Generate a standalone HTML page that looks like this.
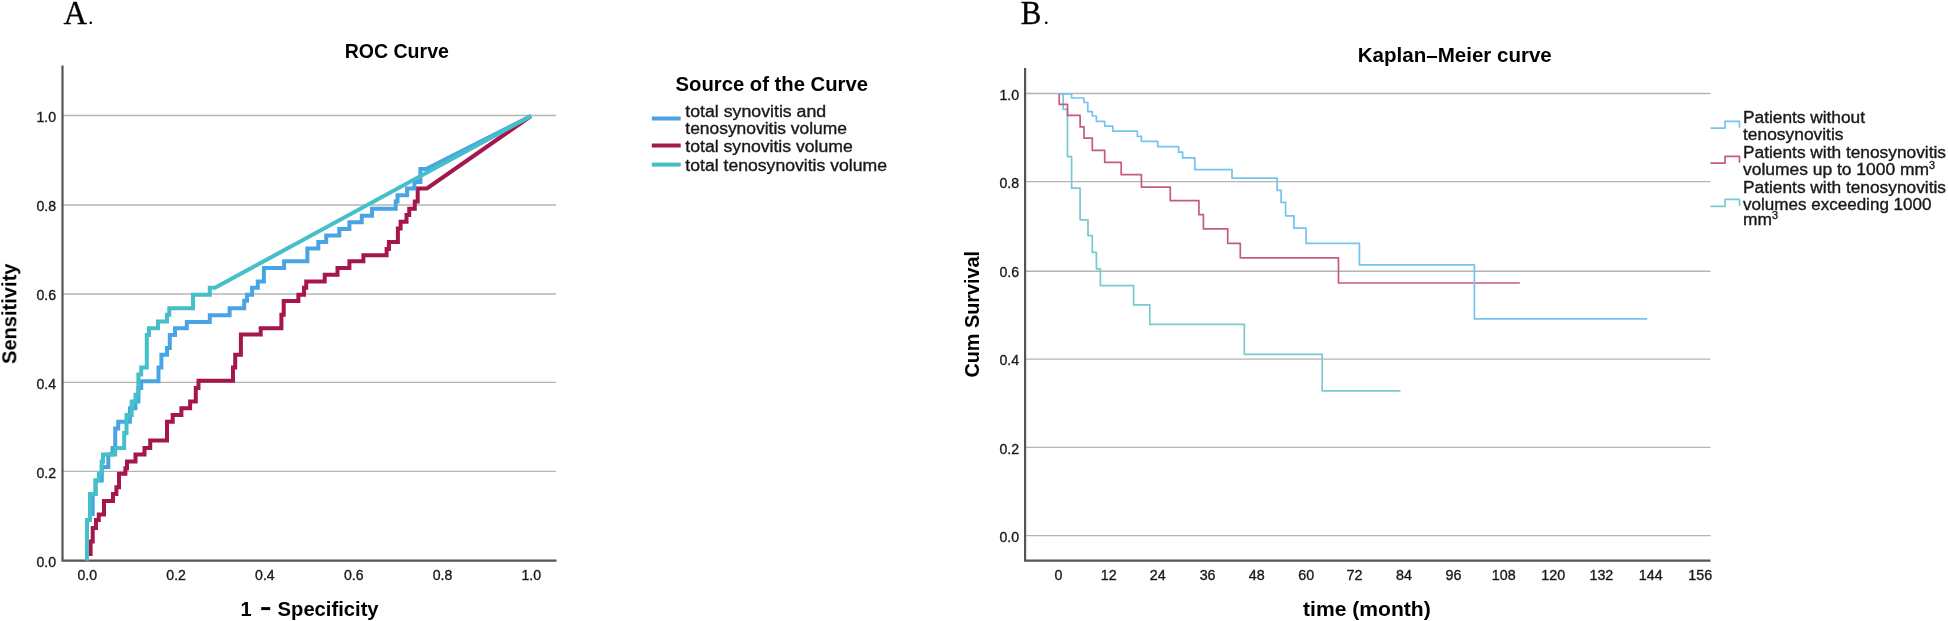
<!DOCTYPE html>
<html><head><meta charset="utf-8"><title>ROC and Kaplan-Meier</title>
<style>html,body{margin:0;padding:0;background:#fff;}body{width:1948px;height:621px;overflow:hidden;font-family:"Liberation Sans",sans-serif;}svg{display:block;will-change:transform;}</style></head>
<body>
<svg width="1948" height="621" viewBox="0 0 1948 621">
<defs><filter id="soft" x="0" y="0" width="100%" height="100%" filterUnits="userSpaceOnUse" primitiveUnits="userSpaceOnUse"><feGaussianBlur stdDeviation="0.45"/></filter></defs>
<rect width="1948" height="621" fill="#fff"/>
<g filter="url(#soft)">
<text x="63.6" y="23.6" font-family="Liberation Serif, serif" font-size="33" fill="#000" stroke="#000" stroke-width="0.35" textLength="23.6" lengthAdjust="spacingAndGlyphs">A</text>
<text x="88" y="23.6" font-family="Liberation Serif, serif" font-size="22" fill="#000">.</text>
<text x="1020.8" y="23.6" font-family="Liberation Serif, serif" font-size="33" fill="#000" stroke="#000" stroke-width="0.35" textLength="20.6" lengthAdjust="spacingAndGlyphs">B</text>
<text x="1043.6" y="23.6" font-family="Liberation Serif, serif" font-size="22" fill="#000">.</text>
<g stroke="#b4b4b4" stroke-width="1.4">
<line x1="63" y1="115.5" x2="556" y2="115.5"/>
<line x1="63" y1="205.0" x2="556" y2="205.0"/>
<line x1="63" y1="294.0" x2="556" y2="294.0"/>
<line x1="63" y1="382.4" x2="556" y2="382.4"/>
<line x1="63" y1="471.4" x2="556" y2="471.4"/>
</g>
<path d="M62.5,65.5 V560.65 H556.5" fill="none" stroke="#555" stroke-width="2.2"/>
<path d="M87.0,560.6 L87.0,553.9 L90.6,553.9 L90.6,541.4 L92.7,541.4 L92.7,528.0 L96.0,528.0 L96.0,520.0 L98.8,520.0 L98.8,514.4 L104.0,514.4 L104.0,500.9 L113.0,500.9 L113.0,494.0 L116.4,494.0 L116.4,487.3 L119.0,487.3 L119.0,473.8 L125.4,473.8 L125.4,468.2 L127.0,468.2 L127.0,461.4 L135.5,461.4 L135.5,454.6 L144.5,454.6 L144.5,447.9 L150.2,447.9 L150.2,440.6 L167.0,440.6 L167.0,421.7 L172.7,421.7 L172.7,415.0 L181.4,415.0 L181.4,408.2 L190.1,408.2 L190.1,401.4 L195.8,401.4 L195.8,387.9 L198.5,387.9 L198.5,380.7 L233.0,380.7 L233.0,367.6 L235.2,367.6 L235.2,354.8 L240.9,354.8 L240.9,334.5 L260.7,334.5 L260.7,328.2 L281.4,328.2 L281.4,314.7 L283.7,314.7 L283.7,300.9 L298.4,300.9 L298.4,294.7 L304.0,294.7 L304.0,287.7 L306.2,287.7 L306.2,281.6 L324.7,281.6 L324.7,274.8 L337.5,274.8 L337.5,268.0 L349.4,268.0 L349.4,261.3 L363.4,261.3 L363.4,255.2 L386.6,255.2 L386.6,248.9 L388.9,248.9 L388.9,242.1 L397.9,242.1 L397.9,228.6 L400.6,228.6 L400.6,221.8 L406.5,221.8 L406.5,215.1 L409.2,215.1 L409.2,208.8 L414.8,208.8 L414.8,201.6 L417.7,201.6 L417.7,188.5 L426.9,188.5 L531.0,116.0" fill="none" stroke="#a5164e" stroke-width="4" stroke-linejoin="miter"/>
<path d="M87.0,560.6 L87.0,520.0 L90.0,520.0 L90.0,514.0 L92.7,514.0 L92.7,494.0 L95.4,494.0 L95.4,480.6 L101.8,480.6 L101.8,467.0 L108.3,467.0 L108.3,454.6 L112.5,454.6 L112.5,448.0 L115.2,448.0 L115.2,428.5 L118.2,428.5 L118.2,421.7 L129.9,421.7 L129.9,408.2 L135.5,408.2 L135.5,401.4 L138.4,401.4 L138.4,388.0 L141.2,388.0 L141.2,381.2 L158.5,381.2 L158.5,367.6 L161.4,367.6 L161.4,354.8 L167.0,354.8 L167.0,348.0 L169.8,348.0 L169.8,335.0 L175.0,335.0 L175.0,328.2 L186.8,328.2 L186.8,321.9 L209.8,321.9 L209.8,315.3 L229.6,315.3 L229.6,308.2 L244.2,308.2 L244.2,300.7 L247.0,300.7 L247.0,294.7 L252.1,294.7 L252.1,287.7 L257.8,287.7 L257.8,281.6 L263.9,281.6 L263.9,268.0 L284.1,268.0 L284.1,261.3 L307.4,261.3 L307.4,248.4 L318.3,248.4 L318.3,242.1 L326.2,242.1 L326.2,235.4 L339.3,235.4 L339.3,229.1 L349.4,229.1 L349.4,222.3 L361.8,222.3 L361.8,215.8 L372.0,215.8 L372.0,208.8 L395.7,208.8 L395.7,201.6 L397.5,201.6 L397.5,195.2 L407.1,195.2 L407.1,188.5 L414.4,188.5 L414.4,181.9 L420.4,181.9 L420.4,168.9 L426.6,168.9 L531.0,116.0" fill="none" stroke="#4aa4e6" stroke-width="4" stroke-linejoin="miter"/>
<path d="M87.0,560.6 L87.0,520.0 L90.0,520.0 L90.0,494.0 L95.4,494.0 L95.8,494.0 L95.8,480.6 L98.9,480.6 L98.9,473.8 L101.7,473.8 L101.7,461.4 L103.0,461.4 L103.0,454.6 L115.2,454.6 L115.2,448.0 L124.2,448.0 L124.2,433.0 L126.5,433.0 L126.5,415.0 L131.7,415.0 L131.7,401.4 L135.5,401.4 L135.5,394.7 L138.4,394.7 L138.4,374.4 L141.2,374.4 L141.2,367.6 L146.8,367.6 L146.8,335.0 L149.0,335.0 L149.0,328.2 L158.0,328.2 L158.0,321.4 L167.0,321.4 L167.0,314.7 L169.3,314.7 L169.3,308.2 L193.0,308.2 L193.0,294.7 L209.8,294.7 L209.8,287.7 L215.0,287.7 L531.0,116.0" fill="none" stroke="#45bfc8" stroke-width="4" stroke-linejoin="miter"/>
<text x="36.4" y="121.7" font-family="Liberation Sans, sans-serif" font-size="14.3" fill="#1a1a1a" stroke="#1a1a1a" stroke-width="0.35" textLength="19.6" lengthAdjust="spacingAndGlyphs">1.0</text>
<text x="36.4" y="211.2" font-family="Liberation Sans, sans-serif" font-size="14.3" fill="#1a1a1a" stroke="#1a1a1a" stroke-width="0.35" textLength="19.6" lengthAdjust="spacingAndGlyphs">0.8</text>
<text x="36.4" y="300.2" font-family="Liberation Sans, sans-serif" font-size="14.3" fill="#1a1a1a" stroke="#1a1a1a" stroke-width="0.35" textLength="19.6" lengthAdjust="spacingAndGlyphs">0.6</text>
<text x="36.4" y="388.6" font-family="Liberation Sans, sans-serif" font-size="14.3" fill="#1a1a1a" stroke="#1a1a1a" stroke-width="0.35" textLength="19.6" lengthAdjust="spacingAndGlyphs">0.4</text>
<text x="36.4" y="477.6" font-family="Liberation Sans, sans-serif" font-size="14.3" fill="#1a1a1a" stroke="#1a1a1a" stroke-width="0.35" textLength="19.6" lengthAdjust="spacingAndGlyphs">0.2</text>
<text x="36.4" y="566.8" font-family="Liberation Sans, sans-serif" font-size="14.3" fill="#1a1a1a" stroke="#1a1a1a" stroke-width="0.35" textLength="19.6" lengthAdjust="spacingAndGlyphs">0.0</text>
<text x="77.4" y="580" font-family="Liberation Sans, sans-serif" font-size="14.3" fill="#1a1a1a" stroke="#1a1a1a" stroke-width="0.35" textLength="19.6" lengthAdjust="spacingAndGlyphs">0.0</text>
<text x="166.3" y="580" font-family="Liberation Sans, sans-serif" font-size="14.3" fill="#1a1a1a" stroke="#1a1a1a" stroke-width="0.35" textLength="19.6" lengthAdjust="spacingAndGlyphs">0.2</text>
<text x="255.1" y="580" font-family="Liberation Sans, sans-serif" font-size="14.3" fill="#1a1a1a" stroke="#1a1a1a" stroke-width="0.35" textLength="19.6" lengthAdjust="spacingAndGlyphs">0.4</text>
<text x="343.9" y="580" font-family="Liberation Sans, sans-serif" font-size="14.3" fill="#1a1a1a" stroke="#1a1a1a" stroke-width="0.35" textLength="19.6" lengthAdjust="spacingAndGlyphs">0.6</text>
<text x="432.7" y="580" font-family="Liberation Sans, sans-serif" font-size="14.3" fill="#1a1a1a" stroke="#1a1a1a" stroke-width="0.35" textLength="19.6" lengthAdjust="spacingAndGlyphs">0.8</text>
<text x="521.5" y="580" font-family="Liberation Sans, sans-serif" font-size="14.3" fill="#1a1a1a" stroke="#1a1a1a" stroke-width="0.35" textLength="19.6" lengthAdjust="spacingAndGlyphs">1.0</text>
<text x="344.7" y="57.9" font-family="Liberation Sans, sans-serif" font-size="20" font-weight="bold" fill="#000" textLength="104.2" lengthAdjust="spacingAndGlyphs">ROC Curve</text>
<text x="240.6" y="615.8" font-family="Liberation Sans, sans-serif" font-size="20" font-weight="bold" fill="#000">1</text>
<rect x="261.2" y="607.1" width="9" height="3" fill="#000"/>
<text x="277.6" y="615.8" font-family="Liberation Sans, sans-serif" font-size="20" font-weight="bold" fill="#000" textLength="101" lengthAdjust="spacingAndGlyphs">Specificity</text>
<text transform="translate(16.3,364) rotate(-90)" font-family="Liberation Sans, sans-serif" font-size="20" font-weight="bold" fill="#000" textLength="100.5" lengthAdjust="spacingAndGlyphs">Sensitivity</text>
<text x="675.5" y="91" font-family="Liberation Sans, sans-serif" font-size="20" font-weight="bold" fill="#000" textLength="192.5" lengthAdjust="spacingAndGlyphs">Source of the Curve</text>
<line x1="651.8" y1="118.5" x2="680.7" y2="118.5" stroke="#4aa2e4" stroke-width="4"/>
<line x1="651.8" y1="145.5" x2="680.7" y2="145.5" stroke="#a5164e" stroke-width="4"/>
<line x1="651.8" y1="164.6" x2="680.7" y2="164.6" stroke="#43bfc6" stroke-width="4"/>
<text x="685.3" y="117.4" font-family="Liberation Sans, sans-serif" font-size="16" fill="#1a1a1a" stroke="#1a1a1a" stroke-width="0.35" textLength="140.9" lengthAdjust="spacingAndGlyphs">total synovitis and</text>
<text x="685.3" y="134.1" font-family="Liberation Sans, sans-serif" font-size="16" fill="#1a1a1a" stroke="#1a1a1a" stroke-width="0.35" textLength="161.7" lengthAdjust="spacingAndGlyphs">tenosynovitis volume</text>
<text x="685.3" y="151.9" font-family="Liberation Sans, sans-serif" font-size="16" fill="#1a1a1a" stroke="#1a1a1a" stroke-width="0.35" textLength="167.5" lengthAdjust="spacingAndGlyphs">total synovitis volume</text>
<text x="685.3" y="170.9" font-family="Liberation Sans, sans-serif" font-size="16" fill="#1a1a1a" stroke="#1a1a1a" stroke-width="0.35" textLength="201.7" lengthAdjust="spacingAndGlyphs">total tenosynovitis volume</text>
<g stroke="#b4b4b4" stroke-width="1.4">
<line x1="1026" y1="93.5" x2="1710.5" y2="93.5"/>
<line x1="1026" y1="181.6" x2="1710.5" y2="181.6"/>
<line x1="1026" y1="271.2" x2="1710.5" y2="271.2"/>
<line x1="1026" y1="359.15" x2="1710.5" y2="359.15"/>
<line x1="1026" y1="447.4" x2="1710.5" y2="447.4"/>
<line x1="1026" y1="535.6" x2="1710.5" y2="535.6"/>
</g>
<path d="M1059.2,94.0 L1063.2,94.0 L1063.2,109.3 L1067.5,109.3 L1067.5,156.6 L1071.6,156.6 L1071.6,188.2 L1080.1,188.2 L1080.1,219.8 L1088.0,219.8 L1088.0,235.6 L1092.3,235.6 L1092.3,252.3 L1096.4,252.3 L1096.4,268.8 L1100.4,268.8 L1100.4,285.7 L1133.6,285.7 L1133.6,304.9 L1149.8,304.9 L1149.8,324.3 L1244.3,324.3 L1244.3,354.3 L1322.2,354.3 L1322.2,390.9 L1400.5,390.9" fill="none" stroke="#78c9d1" stroke-width="1.7" stroke-linejoin="round"/>
<path d="M1059.2,94.0 L1059.2,104.3 L1067.5,104.3 L1067.5,115.4 L1080.1,115.4 L1080.1,126.9 L1084.0,126.9 L1084.0,138.2 L1092.3,138.2 L1092.3,150.3 L1104.7,150.3 L1104.7,162.3 L1121.2,162.3 L1121.2,174.7 L1141.4,174.7 L1141.4,187.1 L1170.3,187.1 L1170.3,200.6 L1198.9,200.6 L1198.9,214.7 L1203.4,214.7 L1203.4,228.9 L1227.7,228.9 L1227.7,243.3 L1240.3,243.3 L1240.3,257.8 L1338.5,257.8 L1338.5,283.0 L1519.8,283.0" fill="none" stroke="#c45a85" stroke-width="1.7" stroke-linejoin="round"/>
<path d="M1059.2,94.0 L1071.6,94.0 L1071.6,98.0 L1084.0,98.0 L1084.0,102.5 L1087.8,102.5 L1087.8,111.6 L1092.3,111.6 L1092.3,116.0 L1096.4,116.0 L1096.4,121.3 L1104.7,121.3 L1104.7,126.2 L1112.8,126.2 L1112.8,131.2 L1137.4,131.2 L1137.4,136.4 L1141.4,136.4 L1141.4,141.3 L1157.7,141.3 L1157.7,146.6 L1178.6,146.6 L1178.6,152.2 L1182.6,152.2 L1182.6,157.9 L1194.8,157.9 L1194.8,169.6 L1232.0,169.6 L1232.0,178.2 L1277.1,178.2 L1277.1,190.3 L1281.1,190.3 L1281.1,202.3 L1285.6,202.3 L1285.6,215.8 L1293.9,215.8 L1293.9,228.2 L1306.1,228.2 L1306.1,243.4 L1359.4,243.4 L1359.4,264.8 L1474.4,264.8 L1474.4,318.9 L1647.3,318.9" fill="none" stroke="#74c3f0" stroke-width="1.7" stroke-linejoin="round"/>
<path d="M1025.1,68 V560.6 H1710.5" fill="none" stroke="#555" stroke-width="2.2"/>
<text x="999.4" y="99.7" font-family="Liberation Sans, sans-serif" font-size="14.3" fill="#1a1a1a" stroke="#1a1a1a" stroke-width="0.35" textLength="19.6" lengthAdjust="spacingAndGlyphs">1.0</text>
<text x="999.4" y="187.8" font-family="Liberation Sans, sans-serif" font-size="14.3" fill="#1a1a1a" stroke="#1a1a1a" stroke-width="0.35" textLength="19.6" lengthAdjust="spacingAndGlyphs">0.8</text>
<text x="999.4" y="277.4" font-family="Liberation Sans, sans-serif" font-size="14.3" fill="#1a1a1a" stroke="#1a1a1a" stroke-width="0.35" textLength="19.6" lengthAdjust="spacingAndGlyphs">0.6</text>
<text x="999.4" y="365.3" font-family="Liberation Sans, sans-serif" font-size="14.3" fill="#1a1a1a" stroke="#1a1a1a" stroke-width="0.35" textLength="19.6" lengthAdjust="spacingAndGlyphs">0.4</text>
<text x="999.4" y="453.6" font-family="Liberation Sans, sans-serif" font-size="14.3" fill="#1a1a1a" stroke="#1a1a1a" stroke-width="0.35" textLength="19.6" lengthAdjust="spacingAndGlyphs">0.2</text>
<text x="999.4" y="541.8" font-family="Liberation Sans, sans-serif" font-size="14.3" fill="#1a1a1a" stroke="#1a1a1a" stroke-width="0.35" textLength="19.6" lengthAdjust="spacingAndGlyphs">0.0</text>
<text x="1058.4" y="580" font-family="Liberation Sans, sans-serif" font-size="14.3" fill="#1a1a1a" stroke="#1a1a1a" stroke-width="0.35" text-anchor="middle">0</text>
<text x="1108.7" y="580" font-family="Liberation Sans, sans-serif" font-size="14.3" fill="#1a1a1a" stroke="#1a1a1a" stroke-width="0.35" text-anchor="middle">12</text>
<text x="1157.7" y="580" font-family="Liberation Sans, sans-serif" font-size="14.3" fill="#1a1a1a" stroke="#1a1a1a" stroke-width="0.35" text-anchor="middle">24</text>
<text x="1207.6" y="580" font-family="Liberation Sans, sans-serif" font-size="14.3" fill="#1a1a1a" stroke="#1a1a1a" stroke-width="0.35" text-anchor="middle">36</text>
<text x="1256.8" y="580" font-family="Liberation Sans, sans-serif" font-size="14.3" fill="#1a1a1a" stroke="#1a1a1a" stroke-width="0.35" text-anchor="middle">48</text>
<text x="1306.3" y="580" font-family="Liberation Sans, sans-serif" font-size="14.3" fill="#1a1a1a" stroke="#1a1a1a" stroke-width="0.35" text-anchor="middle">60</text>
<text x="1354.5" y="580" font-family="Liberation Sans, sans-serif" font-size="14.3" fill="#1a1a1a" stroke="#1a1a1a" stroke-width="0.35" text-anchor="middle">72</text>
<text x="1404.0" y="580" font-family="Liberation Sans, sans-serif" font-size="14.3" fill="#1a1a1a" stroke="#1a1a1a" stroke-width="0.35" text-anchor="middle">84</text>
<text x="1453.5" y="580" font-family="Liberation Sans, sans-serif" font-size="14.3" fill="#1a1a1a" stroke="#1a1a1a" stroke-width="0.35" text-anchor="middle">96</text>
<text x="1503.7" y="580" font-family="Liberation Sans, sans-serif" font-size="14.3" fill="#1a1a1a" stroke="#1a1a1a" stroke-width="0.35" text-anchor="middle">108</text>
<text x="1553.2" y="580" font-family="Liberation Sans, sans-serif" font-size="14.3" fill="#1a1a1a" stroke="#1a1a1a" stroke-width="0.35" text-anchor="middle">120</text>
<text x="1601.4" y="580" font-family="Liberation Sans, sans-serif" font-size="14.3" fill="#1a1a1a" stroke="#1a1a1a" stroke-width="0.35" text-anchor="middle">132</text>
<text x="1650.7" y="580" font-family="Liberation Sans, sans-serif" font-size="14.3" fill="#1a1a1a" stroke="#1a1a1a" stroke-width="0.35" text-anchor="middle">144</text>
<text x="1700.3" y="580" font-family="Liberation Sans, sans-serif" font-size="14.3" fill="#1a1a1a" stroke="#1a1a1a" stroke-width="0.35" text-anchor="middle">156</text>
<text x="1357.8" y="61.6" font-family="Liberation Sans, sans-serif" font-size="20" font-weight="bold" fill="#000" textLength="194" lengthAdjust="spacingAndGlyphs">Kaplan–Meier curve</text>
<text x="1303" y="615.6" font-family="Liberation Sans, sans-serif" font-size="20" font-weight="bold" fill="#000" textLength="127.7" lengthAdjust="spacingAndGlyphs">time (month)</text>
<text transform="translate(978.6,377.6) rotate(-90)" font-family="Liberation Sans, sans-serif" font-size="20" font-weight="bold" fill="#000" textLength="126.6" lengthAdjust="spacingAndGlyphs">Cum Survival</text>
<path d="M1710.5,128.2 H1725 V121.4 H1739.5 V127.69999999999999" fill="none" stroke="#74c3f0" stroke-width="1.7" stroke-linejoin="round"/>
<path d="M1710.5,163.2 H1725 V156.4 H1739.5 V162.7" fill="none" stroke="#c45a85" stroke-width="1.7" stroke-linejoin="round"/>
<path d="M1710.5,206.4 H1725 V199.4 H1739.5 V205.9" fill="none" stroke="#78c9d1" stroke-width="1.7" stroke-linejoin="round"/>
<text x="1743" y="122.6" font-family="Liberation Sans, sans-serif" font-size="16" fill="#1a1a1a" stroke="#1a1a1a" stroke-width="0.35" textLength="122" lengthAdjust="spacingAndGlyphs">Patients without</text>
<text x="1743" y="139.5" font-family="Liberation Sans, sans-serif" font-size="16" fill="#1a1a1a" stroke="#1a1a1a" stroke-width="0.35" textLength="100.5" lengthAdjust="spacingAndGlyphs">tenosynovitis</text>
<text x="1743" y="157.6" font-family="Liberation Sans, sans-serif" font-size="16" fill="#1a1a1a" stroke="#1a1a1a" stroke-width="0.35" textLength="203" lengthAdjust="spacingAndGlyphs">Patients with tenosynovitis</text>
<text x="1743" y="174.5" font-family="Liberation Sans, sans-serif" font-size="16" fill="#1a1a1a" stroke="#1a1a1a" stroke-width="0.35" textLength="192" lengthAdjust="spacingAndGlyphs">volumes up to 1000 mm<tspan font-size="10" dy="-6">3</tspan></text>
<text x="1743" y="192.7" font-family="Liberation Sans, sans-serif" font-size="16" fill="#1a1a1a" stroke="#1a1a1a" stroke-width="0.35" textLength="203" lengthAdjust="spacingAndGlyphs">Patients with tenosynovitis</text>
<text x="1743" y="209.6" font-family="Liberation Sans, sans-serif" font-size="16" fill="#1a1a1a" stroke="#1a1a1a" stroke-width="0.35" textLength="188.5" lengthAdjust="spacingAndGlyphs">volumes exceeding 1000</text>
<text x="1743" y="225.3" font-family="Liberation Sans, sans-serif" font-size="16" fill="#1a1a1a" stroke="#1a1a1a" stroke-width="0.35" textLength="35" lengthAdjust="spacingAndGlyphs">mm<tspan font-size="10" dy="-6">3</tspan></text>
</g>
</svg>
</body></html>
